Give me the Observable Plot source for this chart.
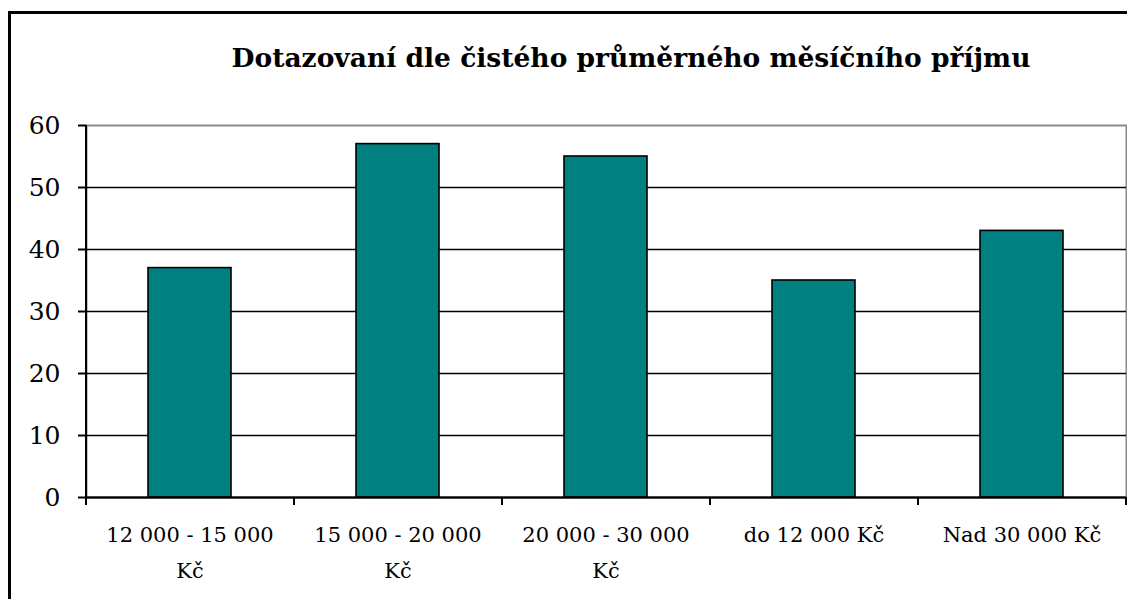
<!DOCTYPE html>
<html>
<head>
<meta charset="utf-8">
<script src="https://cdn.jsdelivr.net/npm/d3@7"></script>
<script src="https://cdn.jsdelivr.net/npm/@observablehq/plot@0.6"></script>
<style>
  html, body { margin: 0; padding: 0; background: #fff; }
  #wrap { position: relative; width: 1127px; height: 599px; overflow: hidden; background: #fff; }
  #border { position: absolute; left: 8px; top: 11px; width: 1200px; height: 700px; border-left: 3px solid #000; border-top: 3px solid #000; box-sizing: border-box; }
  #title { position: absolute; left: 0; top: 38px; width: 1262px; text-align: center; font-family: "DejaVu Serif", serif; font-weight: bold; font-size: 26.5px; line-height: 40px; color: #000; white-space: nowrap; }
  #chart { position: absolute; left: 0; top: 0; }
</style>
</head>
<body>
<div id="wrap">
  <div id="border"></div>
  <div id="title">Dotazovaní dle čistého průměrného měsíčního příjmu</div>
  <div id="chart"></div>
</div>
<script>
const categories = ["12 000 - 15 000 Kč", "15 000 - 20 000 Kč", "20 000 - 30 000 Kč", "do 12 000 Kč", "Nad 30 000 Kč"];
const tickLabels = ["12 000 - 15 000\nKč", "15 000 - 20 000\nKč", "20 000 - 30 000\nKč", "do 12 000 Kč", "Nad 30 000 Kč"];
const values = [37, 57, 55, 35, 43];
const yTicks = [0, 10, 20, 30, 40, 50, 60];

const data = categories.map((c, i) => ({category: c, value: values[i]}));
const labelOf = new Map(categories.map((c, i) => [c, tickLabels[i]]));

const W = 1127, H = 599, ML = 86, MR = 1;
const halfBand = (W - ML - MR) / categories.length / 2;

const chart = Plot.plot({
  width: W,
  height: H,
  marginLeft: ML,
  marginRight: MR,
  marginTop: 125,
  marginBottom: 102,
  style: {fontFamily: "DejaVu Serif, serif", color: "#000", background: "transparent"},
  x: {domain: categories, paddingInner: 0.6, paddingOuter: 0.3, axis: null, label: null},
  y: {domain: [0, 60], axis: null, label: null},
  marks: [
    Plot.frame({stroke: "#8a8a8a", strokeWidth: 2}),
    Plot.gridY(yTicks.slice(0, -1), {stroke: "#000", strokeOpacity: 1, strokeWidth: 1.6}),
    Plot.barY(data, {x: "category", y: "value", fill: "#008080", stroke: "#000", strokeWidth: 1.6}),
    Plot.ruleY([0], {stroke: "#000", strokeWidth: 2}),
    Plot.ruleX([categories[0]], {stroke: "#000", strokeWidth: 2, dx: -halfBand}),
    Plot.axisY({ticks: yTicks, tickSize: 8, tickPadding: 18, fontSize: 25, stroke: "#000", strokeWidth: 2, label: null, tickFormat: d => String(d)}),
    Plot.axisX({ticks: categories, tickSize: 8, text: null, dx: -halfBand, stroke: "#000", strokeWidth: 2, label: null}),
    Plot.axisX({ticks: [categories[categories.length - 1]], tickSize: 8, text: null, dx: halfBand, stroke: "#000", strokeWidth: 2, label: null}),
    Plot.axisX({ticks: categories, tickSize: 0, tickPadding: 19, fontSize: 21, lineHeight: 1.7, label: null, tickFormat: d => labelOf.get(d)})
  ]
});
document.getElementById("chart").appendChild(chart);
</script>
</body>
</html>
